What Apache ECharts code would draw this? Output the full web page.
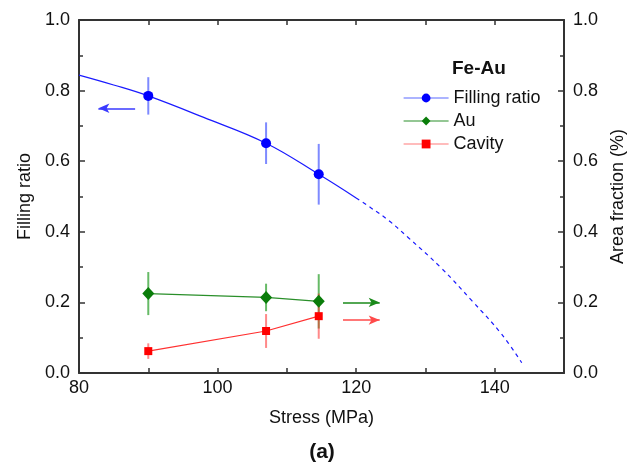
<!DOCTYPE html>
<html>
<head>
<meta charset="utf-8">
<script src="https://cdn.jsdelivr.net/npm/echarts@6/dist/echarts.min.js"></script>
<style>
  html, body { margin: 0; padding: 0; background: #fff; }
  #chart { width: 644px; height: 468px; }
</style>
</head>
<body>
<div id="chart"></div>
<script>
// Measured points (stress in MPa)
const stress = [90, 107, 114.6];
const fillingRatio = [0.785, 0.651, 0.563];
const fillingErr = [0.053, 0.059, 0.086];
const auFraction = [0.225, 0.214, 0.203];
const auErr = [0.061, 0.039, 0.077];
const cavityFraction = [0.062, 0.119, 0.161];
const cavityErr = [0.022, 0.048, 0.064];

// Fitted trend of the filling ratio: solid within range, dashed extrapolation
const fitSolidX = [80, 85, 90, 98, 107, 114.6, 120];
const fitSolidY = [0.844, 0.816, 0.785, 0.724, 0.651, 0.563, 0.496];
const fitDashX = [120, 122.2, 124.7, 127.5, 132.2, 136.7, 141.0, 143.9];
const fitDashY = [0.496, 0.467, 0.432, 0.384, 0.299, 0.205, 0.110, 0.029];

const xTicks = [80, 100, 120, 140];

const FONT = '"Liberation Sans", Arial, sans-serif';
const AXIS_COLOR = '#333';

const pairs = (xs, ys) => xs.map((x, i) => [x, ys[i]]);
const errData = (ys, es) => stress.map((x, i) => [x, ys[i], es[i]]);

function errorBars(name, ys, es, color, yAxisIndex) {
  return {
    name: name + ' error',
    type: 'custom',
    yAxisIndex: yAxisIndex,
    z: 1,
    silent: true,
    data: errData(ys, es),
    renderItem: function (params, api) {
      const x = api.value(0), y = api.value(1), e = api.value(2);
      const top = api.coord([x, y + e]);
      const bot = api.coord([x, y - e]);
      return {
        type: 'line',
        shape: { x1: top[0], y1: top[1], x2: bot[0], y2: bot[1] },
        style: { stroke: color, lineWidth: 2 }
      };
    }
  };
}

function arrow(from, to, color) {
  return {
    silent: true,
    animation: false,
    symbol: ['none', 'arrow'],
    symbolSize: [7, 11],
    label: { show: false },
    lineStyle: { color: color, width: 1.5, type: 'solid' },
    emphasis: { disabled: true },
    data: [[{ coord: from }, { coord: to }]]
  };
}

const yAxisBase = {
  type: 'value',
  min: 0,
  max: 1,
  interval: 0.2,
  nameLocation: 'middle',
  nameTextStyle: { fontFamily: FONT, fontSize: 18, color: '#111' },
  axisLine: { show: true, lineStyle: { color: AXIS_COLOR, width: 2 } },
  axisTick: { show: true, inside: true, length: 6, lineStyle: { color: AXIS_COLOR, width: 1.5 } },
  minorTick: { show: true, splitNumber: 2, length: 4, lineStyle: { color: AXIS_COLOR, width: 1.5 } },
  splitLine: { show: false },
  axisLabel: {
    fontFamily: FONT, fontSize: 18, color: '#111', margin: 9,
    formatter: v => v.toFixed(1)
  }
};

const xAxisBase = {
  type: 'value',
  min: 80,
  max: 150,
  interval: 10,
  axisLine: { show: true, onZero: false, lineStyle: { color: AXIS_COLOR, width: 2 } },
  axisTick: { show: true, inside: true, length: 5, lineStyle: { color: AXIS_COLOR, width: 1.5 } },
  splitLine: { show: false }
};

const chart = echarts.init(document.getElementById('chart'), null, { renderer: 'canvas' });

chart.setOption({
  animation: false,
  backgroundColor: '#fff',
  textStyle: { fontFamily: FONT },
  title: [
    {
      text: 'Fe-Au', left: 447, top: 54,
      textStyle: { fontFamily: FONT, fontSize: 19, fontWeight: 'bold', color: '#111' }
    },
    {
      text: '(a)', left: 'center', top: 437,
      textStyle: { fontFamily: FONT, fontSize: 21, fontWeight: 'bold', color: '#111' }
    }
  ],
  legend: {
    orient: 'vertical',
    left: 398,
    top: 84,
    itemWidth: 45,
    itemHeight: 11,
    itemGap: 5,
    selectedMode: false,
    textStyle: { fontFamily: FONT, fontSize: 18, color: '#111' },
    data: [
      { name: 'Filling ratio', lineStyle: { color: '#5b6bff', width: 1.2, opacity: 1 } },
      { name: 'Au', lineStyle: { color: '#2a8f2a', width: 1.2 } },
      { name: 'Cavity', lineStyle: { color: '#ff7a7a', width: 1.2 } }
    ]
  },
  grid: { left: 79, right: 80, top: 20, bottom: 95, containLabel: false },
  xAxis: [
    Object.assign({}, xAxisBase, {
      position: 'bottom',
      name: 'Stress (MPa)',
      nameLocation: 'middle',
      nameGap: 36,
      nameTextStyle: { fontFamily: FONT, fontSize: 18, color: '#111' },
      axisLabel: {
        fontFamily: FONT, fontSize: 18, color: '#111', margin: 6,
        formatter: v => (xTicks.indexOf(v) >= 0 ? String(v) : '')
      }
    }),
    Object.assign({}, xAxisBase, {
      position: 'top',
      axisLabel: { show: false }
    })
  ],
  yAxis: [
    Object.assign({}, yAxisBase, {
      position: 'left',
      name: 'Filling ratio',
      nameGap: 43
    }),
    Object.assign({}, yAxisBase, {
      position: 'right',
      name: 'Area fraction (%)',
      nameGap: 45
    })
  ],
  series: [
    {
      name: 'fit',
      type: 'line',
      yAxisIndex: 0,
      data: pairs(fitSolidX, fitSolidY),
      smooth: 0.4,
      showSymbol: false,
      silent: true,
      z: 2,
      lineStyle: { color: '#1a1aff', width: 1.2 }
    },
    {
      name: 'fit extrapolation',
      type: 'line',
      yAxisIndex: 0,
      data: pairs(fitDashX, fitDashY),
      smooth: 0.4,
      showSymbol: false,
      silent: true,
      z: 2,
      lineStyle: { color: '#1a1aff', width: 1.2, type: [4, 4] }
    },
    errorBars('Filling ratio', fillingRatio, fillingErr, 'rgba(40,60,255,0.6)', 0),
    errorBars('Au', auFraction, auErr, 'rgba(0,140,0,0.6)', 1),
    errorBars('Cavity', cavityFraction, cavityErr, 'rgba(255,40,40,0.55)', 1),
    {
      name: 'Filling ratio',
      type: 'line',
      yAxisIndex: 0,
      data: pairs(stress, fillingRatio),
      symbol: 'circle',
      symbolSize: 10,
      z: 5,
      itemStyle: { color: '#0000ff' },
      lineStyle: { color: '#5b6bff', width: 1.2, opacity: 0 },
      markLine: arrow([88.1, 0.75], [82.8, 0.75], '#3a3aff')
    },
    {
      name: 'Au',
      type: 'line',
      yAxisIndex: 1,
      data: pairs(stress, auFraction),
      symbol: 'diamond',
      symbolSize: [12, 13],
      z: 5,
      itemStyle: { color: '#0a7d0a' },
      lineStyle: { color: '#2a8f2a', width: 1.2 },
      markLine: arrow([118.1, 0.2], [123.4, 0.2], '#1a8a1a')
    },
    {
      name: 'Cavity',
      type: 'line',
      yAxisIndex: 1,
      data: pairs(stress, cavityFraction),
      symbol: 'rect',
      symbolSize: 8,
      z: 5,
      itemStyle: { color: '#ff0000' },
      lineStyle: { color: '#ff3030', width: 1.2 },
      markLine: arrow([118.1, 0.15], [123.4, 0.15], '#ff4a4a')
    }
  ]
});
</script>
</body>
</html>
